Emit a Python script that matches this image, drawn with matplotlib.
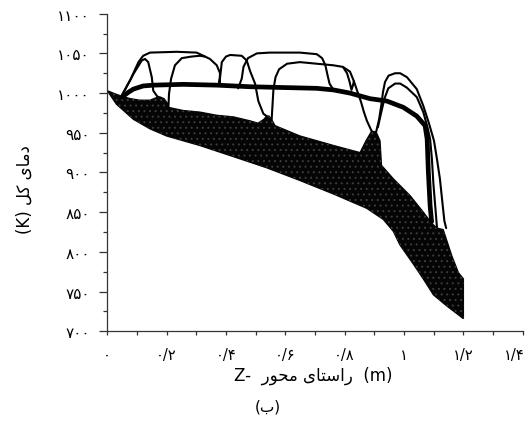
"""Total temperature of particles along the Z axis (Persian labels).

Dense band of particle temperatures, the mean gas line (thick) and a few
single trajectories that leave the band, heat up and fall back into it.
Output: out.png (529x427 px).
"""

import matplotlib
matplotlib.use("Agg")
import matplotlib.pyplot as plt
from matplotlib.transforms import ScaledTranslation

OUT_PNG = "out.png"

# ---------------------------------------------------------------------------
# Axis ticks / labels (Persian digits)
# ---------------------------------------------------------------------------
Y_TICKS = [700, 750, 800, 850, 900, 950, 1000, 1050, 1100]
Y_TICK_LABELS = ["۷۰۰", "۷۵۰", "۸۰۰", "۸۵۰", "۹۰۰", "۹۵۰", "۱۰۰۰", "۱۰۵۰", "۱۱۰۰"]
X_TICKS = [0.0, 0.2, 0.4, 0.6, 0.8, 1.0, 1.2, 1.4]
X_TICK_LABELS = ["۰", "۰/۲", "۰/۴", "۰/۶", "۰/۸", "۱", "۱/۲", "۱/۴"]

# Labels already shaped (presentation forms, visual left-to-right order)
Y_LABEL = "(K) \uFEDE\uFB90 \uFBFC\uFE8E\uFEE3\uFEA9"                  # دمای کل (K)
X_LABEL = "Z-  \uFEAD\uFEEE\uFEA4\uFEE3 \uFBFC\uFE8E\uFE98\uFEB3\uFE8D\uFEAD  (m)"  # راستای محور
CAPTION = "(\uFE8F)"                                                   # (ب)

# ---------------------------------------------------------------------------
# Data: z [m], T [K]
# ---------------------------------------------------------------------------
# upper edge of the dense particle band (left to right)
BAND_TOP_Z = [0.0, 0.026, 0.049, 0.077, 0.110, 0.144, 0.164, 0.178, 0.191,
              0.205, 0.206, 0.256, 0.312, 0.369, 0.425, 0.481, 0.508, 0.528,
              0.537, 0.545, 0.555, 0.565, 0.649, 0.762, 0.852, 0.872, 0.891,
              0.906, 0.919, 0.924, 0.964, 1.020, 1.065, 1.093, 1.111, 1.132,
              1.161, 1.183, 1.200, 1.200]
BAND_TOP_T = [1003, 999, 996, 993, 991, 991, 994, 995, 993,
              986, 982, 978, 976, 972, 970, 965, 962, 967,
              971, 971, 966, 959, 946, 934, 925, 940, 952,
              951, 940, 909, 892, 871, 850, 836, 830, 828,
              795, 774, 766, 716]
# lower edge of the dense particle band (left to right)
BAND_BOT_Z = [0.0, 0.031, 0.088, 0.144, 0.200, 0.256, 0.312, 0.425, 0.537,
              0.649, 0.762, 0.874, 0.930, 0.964, 0.986, 1.031, 1.065, 1.099,
              1.144, 1.200]
BAND_BOT_T = [1003, 986, 967, 955, 946, 940, 934, 920, 906,
              890, 873, 855, 841, 826, 809, 785, 766, 746,
              732, 716]

# mean (gas) temperature - thick line
MAIN_Z = [0.050, 0.071, 0.088, 0.121, 0.155, 0.256, 0.369, 0.481, 0.593,
          0.706, 0.762, 0.818, 0.885, 0.942, 0.998, 1.043, 1.071, 1.078,
          1.082, 1.088, 1.093]
MAIN_T = [995, 1001, 1005, 1009, 1010, 1011, 1010, 1008, 1007,
          1006, 1004, 1000, 993, 990, 982, 971, 959, 942,
          901, 858, 838]

# single trajectories
TRAJ_1_Z = [0.049, 0.088, 0.116, 0.127, 0.138, 0.150, 0.155, 0.168, 0.178]
TRAJ_1_T = [997, 1024, 1041, 1043, 1039, 1020, 1003, 996, 994]

TRAJ_2_Z = [0.049, 0.077, 0.105, 0.121, 0.144, 0.234, 0.301, 0.324, 0.346,
            0.369, 0.380, 0.378, 0.386, 0.400, 0.414, 0.453, 0.470, 0.481,
            0.498, 0.509, 0.526, 0.537]
TRAJ_2_T = [997, 1016, 1039, 1047, 1051, 1052, 1051, 1047, 1043,
            1035, 1025, 1013, 1039, 1046, 1048, 1047, 1041, 1028,
            1012, 990, 974, 971]

TRAJ_3_Z = [0.206, 0.208, 0.215, 0.228, 0.251, 0.284, 0.312, 0.329]
TRAJ_3_T = [982, 999, 1018, 1035, 1044, 1046, 1047, 1046]

TRAJ_4_Z = [0.441, 0.453, 0.459, 0.474, 0.504, 0.548, 0.649, 0.706, 0.724,
            0.735, 0.742, 0.749, 0.762]
TRAJ_4_T = [1006, 1018, 1033, 1044, 1050, 1051, 1051, 1049, 1044,
            1035, 1023, 1012, 1004]

TRAJ_5_Z = [0.554, 0.557, 0.560, 0.567, 0.579, 0.606, 0.649, 0.762, 0.794,
            0.818, 0.831, 0.842, 0.855, 0.865, 0.875, 0.891]
TRAJ_5_T = [967, 986, 1005, 1020, 1030, 1037, 1039, 1035, 1033,
            1027, 1015, 1003, 989, 976, 965, 952]

TRAJ_6_Z = [0.794, 0.808, 0.816, 0.823, 0.828, 0.831]
TRAJ_6_T = [1033, 1025, 1015, 1004, 1010, 1015]

TRAJ_7_Z = [0.906, 0.916, 0.924, 0.929, 0.936, 0.948, 0.970, 0.987, 1.010,
            1.043, 1.065, 1.084, 1.101, 1.111, 1.121, 1.130, 1.136, 1.142]
TRAJ_7_T = [951, 967, 986, 1001, 1014, 1022, 1025, 1025, 1020,
            1005, 984, 962, 940, 917, 892, 860, 839, 830]

TRAJ_8_Z = [0.912, 0.924, 0.934, 0.947, 0.970, 0.987, 1.009, 1.043, 1.065,
            1.079, 1.088, 1.094, 1.099, 1.106, 1.111]
TRAJ_8_T = [957, 977, 993, 1006, 1012, 1012, 1007, 995, 976,
            957, 942, 917, 886, 854, 831]

TRAJECTORIES = [(TRAJ_1_Z, TRAJ_1_T), (TRAJ_2_Z, TRAJ_2_T), (TRAJ_3_Z, TRAJ_3_T),
                (TRAJ_4_Z, TRAJ_4_T), (TRAJ_5_Z, TRAJ_5_T), (TRAJ_6_Z, TRAJ_6_T),
                (TRAJ_7_Z, TRAJ_7_T), (TRAJ_8_Z, TRAJ_8_T)]


def main() -> None:
    plt.rcParams["font.family"] = ["DejaVu Sans"]
    plt.rcParams["hatch.linewidth"] = 0.7

    fig = plt.figure(figsize=(5.29, 4.27), dpi=100)
    ax = fig.add_axes([0.2028, 0.2218, 0.7853, 0.7438])

    # dense band: solid dark fill with a speckle-like dotted hatch
    poly_z = BAND_TOP_Z + BAND_BOT_Z[::-1]
    poly_t = BAND_TOP_T + BAND_BOT_T[::-1]
    ax.fill(poly_z, poly_t, facecolor="#050505", edgecolor="#050505",
            linewidth=1.0, zorder=1)
    ax.fill(poly_z, poly_t, facecolor="none", edgecolor="#3d3d3d",
            hatch="...", linewidth=0, zorder=2)

    ax.plot(MAIN_Z, MAIN_T, color="black", linewidth=3.4,
            solid_capstyle="round", solid_joinstyle="round", zorder=3)
    for z, t in TRAJECTORIES:
        ax.plot(z, t, color="black", linewidth=1.5,
                solid_capstyle="round", solid_joinstyle="round", zorder=4)

    ax.set_xlim(0, 1.4)
    ax.set_ylim(700, 1100)
    for side in ("top", "right"):
        ax.spines[side].set_visible(False)
    for side in ("left", "bottom"):
        ax.spines[side].set_linewidth(0.9)
        ax.spines[side].set_color("#333333")

    ax.set_yticks(Y_TICKS)
    ax.set_yticklabels(Y_TICK_LABELS)
    ax.set_yticks([725, 775, 825, 875, 925, 975, 1025, 1075], minor=True)
    ax.set_xticks(X_TICKS)
    ax.set_xticklabels(X_TICK_LABELS)
    ax.set_xticks([0.1, 0.3, 0.5, 0.7, 0.9, 1.1, 1.3], minor=True)

    ax.tick_params(axis="y", which="major", direction="out", length=5.5,
                   width=0.9, color="#333333", pad=7, labelsize=11)
    ax.tick_params(axis="y", which="minor", direction="out", length=3,
                   width=0.9, color="#333333")
    ax.tick_params(axis="x", which="both", direction="out", length=3,
                   width=0.9, color="#333333", pad=8, labelsize=10.5)

    # last x label sits at the right figure edge: nudge it inward a little
    last = ax.get_xticklabels()[-1]
    last.set_transform(last.get_transform()
                       + ScaledTranslation(-6 / 72, 0, fig.dpi_scale_trans))

    fig.text(25 / 529, 1 - 190 / 427, Y_LABEL, rotation=90, fontsize=12,
             ha="center", va="center")
    fig.text(313 / 529, 1 - 376 / 427, X_LABEL, fontsize=12,
             ha="center", va="center")
    fig.text(268 / 529, 1 - 407 / 427, CAPTION, fontsize=11,
             ha="center", va="center")

    fig.savefig(OUT_PNG, dpi=100, facecolor="white")


if __name__ == "__main__":
    main()
